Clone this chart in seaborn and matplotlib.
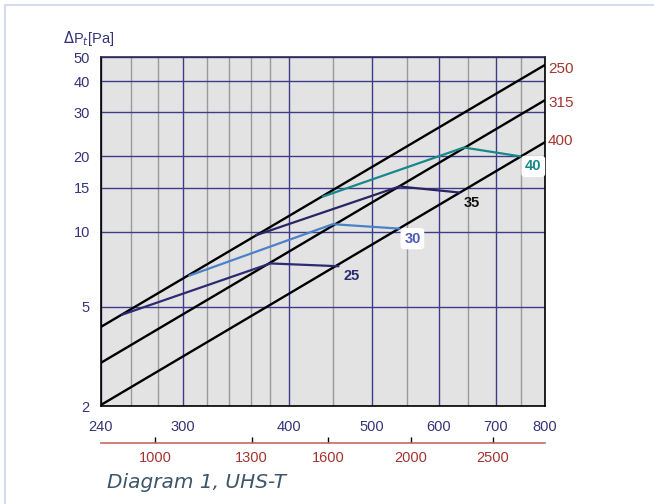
import numpy as np
import pandas as pd
import matplotlib
matplotlib.use("Agg")
import matplotlib.pyplot as plt
from matplotlib.ticker import FixedLocator, NullFormatter
from matplotlib.lines import Line2D
import seaborn as sns

# duct size lines, pressure drop at both ends of the flow range
duct_sizes = ["250", "315", "400"]
duct_flow = [240, 800]
duct_dp_start = [4.15, 2.98, 2.02]
duct_dp_end = [46.5, 33.6, 22.8]

# sound level curves, each runs 250 -> 315 -> 400 duct line
curve_labels = ["25", "30", "35", "40"]
curve_flow = [[254, 380, 457], [305, 450, 539], [365, 539, 634], [438, 642, 748]]
curve_dp = [[4.64, 7.45, 7.26], [6.66, 10.7, 10.27], [9.65, 15.15, 14.33], [13.8, 21.7, 20.0]]

x_ticks = [240, 300, 400, 500, 600, 700, 800]
x_minor = [260, 280, 320, 340, 360, 380, 450, 550, 650, 750]
y_ticks = [2, 5, 10, 15, 20, 30, 40, 50]
m3h_ticks = [1000, 1300, 1600, 2000, 2500]

curve_colors = ["#2b2a72", "#4a82c8", "#2a2462", "#16898a"]
label_colors = ["#2b2a72", "#4a5ab8", "#111111", "#16898a"]
label_boxed = [False, True, False, True]
navy = "#34347a"
red = "#a2352e"

sns.set_style("white")
plt.rcParams["font.family"] = ["Liberation Sans", "DejaVu Sans"]

fig = plt.figure(figsize=(6.54, 5.04), dpi=100)
ax = fig.add_axes([0.1544, 0.1944, 0.679, 0.6925])
ax.set_facecolor("#e3e3e3")
ax.set_xscale("log")
ax.set_yscale("log")

for i, size in enumerate(duct_sizes):
    d = pd.DataFrame({"flow": duct_flow, "dp": [duct_dp_start[i], duct_dp_end[i]]})
    sns.lineplot(data=d, x="flow", y="dp", ax=ax, color="black", lw=1.7,
                 sort=False, estimator=None, zorder=3)
    ax.annotate(size, (duct_flow[1], duct_dp_end[i]), xytext=(3, [-4, -3, 1][i]),
                textcoords="offset pixels", color=red, fontsize=11,
                ha="left", va="center", annotation_clip=False)

for i, lab in enumerate(curve_labels):
    d = pd.DataFrame({"flow": curve_flow[i], "dp": curve_dp[i]})
    sns.lineplot(data=d, x="flow", y="dp", ax=ax, color=curve_colors[i], lw=1.6,
                 sort=False, estimator=None, zorder=4)
    box = dict(boxstyle="round,pad=0.25", fc="white", ec="none") if label_boxed[i] else None
    ax.annotate(lab, (curve_flow[i][-1], curve_dp[i][-1]), xytext=(13, -10),
                textcoords="offset pixels", color=label_colors[i], fontsize=10.5,
                fontweight="bold", ha="center", va="center", bbox=box, zorder=5)

ax.set_xlim(240, 800)
ax.set_ylim(2, 50)
ax.xaxis.set_major_locator(FixedLocator(x_ticks))
ax.xaxis.set_minor_locator(FixedLocator(x_minor))
ax.xaxis.set_minor_formatter(NullFormatter())
ax.set_xticklabels([str(v) for v in x_ticks])
ax.yaxis.set_major_locator(FixedLocator(y_ticks))
ax.yaxis.set_minor_locator(FixedLocator([]))
ax.set_yticklabels([str(v) for v in y_ticks])
ax.grid(which="major", color="#3c3c8a", lw=1.0)
ax.grid(which="minor", axis="x", color="#9a9a9a", lw=1.0)
ax.set_axisbelow(True)
ax.tick_params(which="major", direction="out", length=4, width=1, color="black",
               labelcolor=navy, labelsize=10.5)
ax.tick_params(axis="x", which="major", pad=6)
ax.tick_params(axis="y", which="major", pad=4)
ax.tick_params(which="minor", length=0)
ax.set_xlabel("")
ax.set_ylabel("")
for s in ax.spines.values():
    s.set_color("black")
    s.set_linewidth(1.2)
ax.spines["top"].set_color("#2a2a5a")

sec = ax.secondary_xaxis(-0.106, functions=(lambda q: q * 3.6, lambda q: q / 3.6))
sec.xaxis.set_major_locator(FixedLocator(m3h_ticks))
sec.xaxis.set_minor_locator(FixedLocator([]))
sec.set_xticklabels([str(v) for v in m3h_ticks])
sec.spines["bottom"].set_color("#c46a64")
sec.spines["bottom"].set_linewidth(1.2)
sec.tick_params(direction="in", length=4, width=1, color="black",
                labelcolor=red, labelsize=10.5, pad=6)

fig.text(63 / 654, 1 - 38 / 504, r"$\Delta$P$_t$[Pa]", color=navy, fontsize=10.5,
         ha="left", va="center")
fig.text(107 / 654, 1 - 488 / 504, "Diagram 1, UHS-T", color="#3d5568",
         fontsize=14.5, style="italic", family="DejaVu Sans", ha="left", va="baseline")

# light frame on the page
fig.add_artist(Line2D([5 / 654, 5 / 654], [0, 1 - 5 / 504], color="#d3dbef", lw=1.5))
fig.add_artist(Line2D([5 / 654, 1], [1 - 5 / 504, 1 - 5 / 504], color="#d3dbef", lw=1.5))

fig.savefig("out.png", dpi=100, facecolor="white")
